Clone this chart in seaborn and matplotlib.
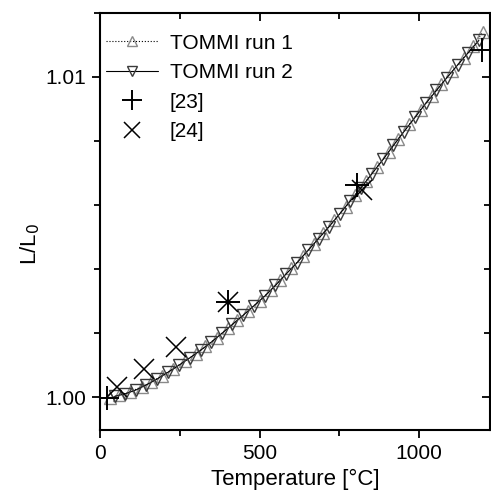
import matplotlib
matplotlib.use("Agg")
import matplotlib.pyplot as plt
from matplotlib.ticker import MultipleLocator, FormatStrFormatter
import seaborn as sns
import pandas as pd

# ---- data ----
run1_T = [30, 60, 95, 130, 160, 195, 230, 265, 300, 330, 365, 400, 430, 465, 500,
          535, 565, 600, 635, 670, 700, 735, 770, 800, 835, 870, 905, 935, 970,
          1005, 1040, 1070, 1105, 1140, 1170, 1200]
run1_L = [0.99998, 1.00006, 1.00017, 1.00032, 1.00047, 1.00067, 1.00089, 1.00112,
          1.00135, 1.00158, 1.00185, 1.00215, 1.00240, 1.00270, 1.00300, 1.00334,
          1.00366, 1.00402, 1.00440, 1.00478, 1.00512, 1.00553, 1.00594, 1.00632,
          1.00676, 1.00720, 1.00766, 1.00806, 1.00852, 1.00898, 1.00940, 1.00978,
          1.01018, 1.01060, 1.01096, 1.01140]
run2_T = [45, 78, 112, 145, 178, 212, 248, 282, 315, 348, 382, 415, 448, 482, 518,
          550, 582, 618, 652, 685, 718, 752, 785, 818, 852, 888, 920, 952, 988,
          1022, 1055, 1088, 1122, 1155, 1188]
run2_L = [1.00002, 1.00010, 1.00022, 1.00038, 1.00056, 1.00077, 1.00100, 1.00123,
          1.00146, 1.00171, 1.00199, 1.00227, 1.00255, 1.00285, 1.00317, 1.00349,
          1.00383, 1.00420, 1.00458, 1.00495, 1.00532, 1.00573, 1.00613, 1.00653,
          1.00697, 1.00743, 1.00786, 1.00828, 1.00874, 1.00918, 1.00958, 1.00998,
          1.01038, 1.01076, 1.01114]
ref23_T = [22, 400, 805, 1198]
ref23_L = [0.99997, 1.00297, 1.00663, 1.01084]
ref24_T = [53, 138, 239, 400, 821]
ref24_L = [1.00030, 1.00088, 1.00156, 1.00297, 1.00647]

x_major = [0, 500, 1000]
y_major = [1.00, 1.01]

sns.set_theme(style="ticks")
plt.rcParams['font.family'] = ['Liberation Sans', 'DejaVu Sans']
plt.rcParams['text.color'] = 'black'
plt.rcParams['axes.labelcolor'] = 'black'
plt.rcParams['xtick.color'] = 'black'
plt.rcParams['ytick.color'] = 'black'

fig = plt.figure(figsize=(4.91, 4.96), dpi=100)
ax = fig.add_axes([0.204, 0.133, 0.794, 0.841])

d1 = pd.DataFrame({"T": run1_T, "L": run1_L})
d2 = pd.DataFrame({"T": run2_T, "L": run2_L})
d3 = pd.DataFrame({"T": ref23_T, "L": ref23_L})
d4 = pd.DataFrame({"T": ref24_T, "L": ref24_L})

sns.lineplot(data=d1, x="T", y="L", ax=ax, estimator=None, sort=False,
             color="black", ls=":", lw=0.8, marker="^", markersize=8,
             mfc="none", mec="#8a8a8a", mew=1.0, label="TOMMI run 1")
sns.lineplot(data=d2, x="T", y="L", ax=ax, estimator=None, sort=False,
             color="black", ls="-", lw=0.8, marker="v", markersize=8,
             mfc="none", mec="#3a3a3a", mew=1.0, label="TOMMI run 2")
sns.lineplot(data=d3, x="T", y="L", ax=ax, estimator=None, sort=False,
             color="black", ls="none", marker="+", markersize=17, mew=1.4,
             mec="black", label="[23]")
sns.lineplot(data=d4, x="T", y="L", ax=ax, estimator=None, sort=False,
             color="black", ls="none", marker="x", markersize=14, mew=1.1,
             mec="black", label="[24]")

ax.set_xlim(0, 1223)
ax.set_ylim(0.99897, 1.0120)
ax.set_xticks(x_major)
ax.set_yticks(y_major)
ax.xaxis.set_minor_locator(MultipleLocator(250))
ax.yaxis.set_minor_locator(MultipleLocator(0.002))
ax.yaxis.set_major_formatter(FormatStrFormatter("%.2f"))
ax.tick_params(axis="both", which="major", direction="out", length=6, width=1.3,
               labelsize=15, colors="black", pad=4)
ax.tick_params(axis="both", which="minor", direction="out", length=4, width=1.3,
               colors="black")
for s in ax.spines.values():
    s.set_linewidth(1.5)
    s.set_color("black")
    s.set_visible(True)

ax.set_xlabel("Temperature [°C]", fontsize=16, labelpad=4, color="black")
ax.set_ylabel("L/L$_0$", fontsize=16, color="black")
ax.yaxis.set_label_coords(-0.15, 0.446)

# mirrored inward ticks on top and right
top = ax.secondary_xaxis("top")
top.set_xticks(x_major)
top.xaxis.set_minor_locator(MultipleLocator(250))
top.tick_params(which="major", direction="in", length=6, width=1.3, labeltop=False)
top.tick_params(which="minor", direction="in", length=4, width=1.3)
right = ax.secondary_yaxis("right")
right.set_yticks(y_major)
right.yaxis.set_minor_locator(MultipleLocator(0.002))
right.tick_params(which="major", direction="in", length=6, width=1.3, labelright=False)
right.tick_params(which="minor", direction="in", length=4, width=1.3)

leg = ax.legend(loc="upper left", bbox_to_anchor=(0.0, 0.965), frameon=False,
                fontsize=15, numpoints=1, handlelength=2.5, handletextpad=0.55,
                labelspacing=0.5, borderaxespad=0.1, borderpad=0.2,
                markerscale=0.85)
for t in leg.get_texts():
    t.set_color("black")

fig.savefig("out.png", dpi=100)
